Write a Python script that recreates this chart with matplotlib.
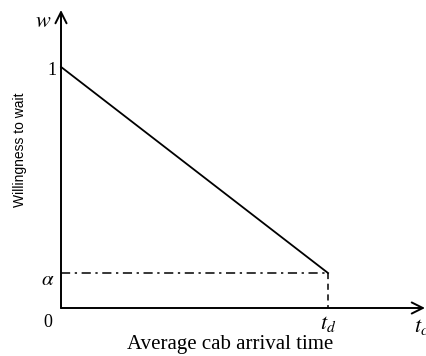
import matplotlib
matplotlib.use('Agg')
from matplotlib import pyplot as plt

# willingness to wait vs average cab arrival time
w_start = 1.0
alpha = 0.145
t_d = 1.0
x_max = 1.363
y_max = 1.236

plt.rcParams['font.family'] = ['Liberation Serif', 'DejaVu Serif']
plt.rcParams['mathtext.fontset'] = 'stix'

fig = plt.figure(figsize=(4.27, 3.56), dpi=100)
ax = fig.add_axes([61/427, 48/356, 364/427, 298/356])
ax.set_xlim(0, x_max)
ax.set_ylim(0, y_max)
ax.axis('off')

# axes with arrows
ax.annotate('', xy=(x_max, 0), xytext=(0, 0), annotation_clip=False,
            arrowprops=dict(arrowstyle='->', lw=1.4, color='black', mutation_scale=20, shrinkA=0, shrinkB=0))
ax.annotate('', xy=(0, y_max), xytext=(0, 0), annotation_clip=False,
            arrowprops=dict(arrowstyle='->', lw=1.4, color='black', mutation_scale=20, shrinkA=0, shrinkB=0))

ax.plot([0, t_d], [w_start, alpha], color='black', lw=1.3, clip_on=False)
ax.plot([0, t_d], [alpha, alpha], color='black', lw=1.1, linestyle=(0, (6, 3, 1.5, 3)), clip_on=False)
ax.plot([t_d, t_d], [alpha, 0], color='black', lw=1.1, linestyle=(0, (4, 3)), clip_on=False)

# tick texts
ax.text(-0.035, w_start - 0.015, '1', ha='center', va='center', fontsize=13)
ax.text(-0.05, alpha - 0.03, r'$\alpha$', ha='center', va='center', fontsize=15)
ax.text(-0.05, -0.06, '0', ha='center', va='center', fontsize=13)
ax.text(t_d, -0.065, r'$t_d$', ha='center', va='center', fontsize=16)
ax.text(1.322, -0.08, r'$t_c$', ha='left', va='center', fontsize=16, clip_on=False)
ax.text(-0.065, 1.185, r'$\mathbf{\it{w}}$', ha='center', va='center', fontsize=16)

fig.text(230/427, 1 - 345/356, 'Average cab arrival time', ha='center', va='center', fontsize=15)
fig.text(20/427, 1 - 150/356, 'Willingness to wait', ha='center', va='center',
         rotation=90, fontsize=10, family='Liberation Sans')

fig.savefig('out.png', dpi=100)
